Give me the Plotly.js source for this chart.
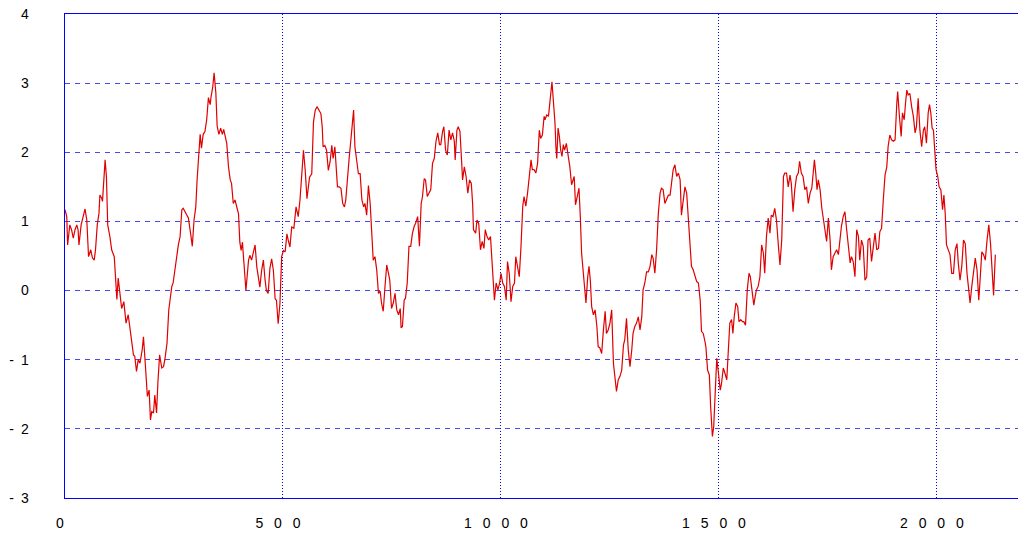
<!DOCTYPE html>
<html>
<head>
<meta charset="utf-8">
<script src="https://cdn.plot.ly/plotly-3.0.1.min.js"></script>
<style>
html,body{margin:0;padding:0;background:#fff;overflow:hidden;}
#chart{width:1018px;height:535px;}
</style>
</head>
<body>
<div id="chart"></div>
<script>
const xIndex = [0,4,6,11,15,19,23,27,30,32,37,40,46,50,54,59,63,67,70,74,78,80,84,86,89,92,95,98,103,107,113,117,119,122,126,130,135,140,145,151,157,160,164,168,172,177,180,183,186,189,193,196,199,203,206,210,213,217,222,226,229,234,238,245,248,252,257,260,264,268,271,275,279,283,288,292,296,300,303,306,310,313,317,321,325,329,333,335,339,342,346,349,353,357,361,364,369,371,375,379,382,386,390,394,398,401,404,407,411,415,421,424,428,432,436,440,443,447,451,455,459,462,466,470,474,478,482,485,489,493,497,501,505,509,512,516,520,525,530,535,539,543,547,551,555,561,566,570,574,578,583,587,590,592,596,600,604,608,612,615,619,623,625,629,633,637,641,644,648,652,656,659,662,665,669,673,677,681,685,688,692,696,700,704,707,711,715,719,723,726,730,734,738,742,745,749,753,757,761,765,769,771,774,778,781,785,789,793,797,801,804,809,813,817,820,824,827,831,835,839,843,847,851,855,859,862,866,869,873,877,881,885,889,893,895,899,902,906,910,912,916,920,924,928,932,935,937,942,945,949,953,957,961,964,968,972,976,979,982,985,989,993,997,1000,1004,1008,1012,1015,1019,1023,1027,1031,1034,1038,1042,1046,1050,1053,1057,1061,1065,1069,1072,1076,1080,1084,1088,1091,1095,1099,1101,1105,1109,1113,1117,1119,1121,1124,1126,1128,1131,1134,1137,1140,1143,1146,1150,1154,1158,1162,1165,1168,1171,1175,1179,1182,1185,1189,1193,1195,1199,1202,1205,1208,1212,1216,1220,1223,1227,1231,1235,1239,1242,1246,1250,1254,1258,1261,1265,1269,1273,1277,1281,1284,1288,1292,1296,1300,1303,1307,1311,1315,1319,1323,1326,1330,1334,1338,1342,1346,1349,1353,1357,1361,1365,1368,1372,1376,1380,1384,1388,1391,1395,1399,1403,1407,1411,1414,1418,1422,1426,1430,1434,1437,1441,1445,1449,1453,1457,1460,1464,1468,1470,1474,1478,1481,1485,1488,1491,1495,1499,1503,1506,1510,1514,1518,1522,1525,1529,1532,1535,1539,1543,1546,1550,1554,1557,1561,1565,1569,1572,1576,1580,1583,1586,1590,1594,1598,1602,1605,1609,1613,1617,1620,1624,1628,1632,1636,1640,1644,1648,1651,1655,1659,1663,1666,1670,1674,1678,1682,1685,1689,1693,1697,1701,1705,1709,1713,1716,1719,1722,1725,1728,1732,1736,1740,1743,1747,1751,1755,1758,1762,1766,1770,1774,1777,1781,1785,1789,1793,1797,1801,1804,1808,1812,1816,1820,1823,1827,1831,1835,1839,1842,1846,1850,1854,1858,1862,1866,1869,1873,1877,1881,1885,1888,1892,1896,1900,1904,1908,1910,1914,1918,1921,1925,1928,1931,1934,1938,1942,1946,1950,1953,1957,1961,1965,1969,1972,1976,1980,1983,1986,1989,1992,1995,1998,2002,2005,2009,2013,2016,2019,2022,2026,2030,2034,2038,2042,2046,2049,2053,2057,2061,2065,2069,2073,2076,2080,2084,2088,2092,2096,2100,2103,2107,2111,2115,2119,2123,2126,2130,2134];

const signal = [1.17,1.07,0.66,0.95,0.88,0.76,0.88,0.95,0.88,0.66,0.95,1.02,1.18,1.02,0.49,0.59,0.47,0.44,0.59,0.95,1.12,1.38,1.34,1.29,1.53,1.89,1.65,0.95,0.78,0.59,0.49,0.01,-0.13,0.18,-0.09,-0.26,-0.16,-0.47,-0.35,-0.67,-0.93,-0.95,-1.17,-1.0,-1.05,-0.86,-0.67,-0.95,-1.34,-1.53,-1.44,-1.87,-1.75,-1.77,-1.51,-1.77,-1.34,-0.93,-1.12,-1.1,-1.0,-0.76,-0.28,0.06,0.11,0.3,0.59,0.66,0.78,1.17,1.19,1.14,1.09,1.05,0.83,0.64,1.02,1.21,1.6,1.94,2.26,2.06,2.26,2.3,2.47,2.79,2.69,2.8,2.95,3.15,2.86,2.38,2.26,2.35,2.26,2.33,2.18,2.13,1.79,1.6,1.55,1.26,1.31,1.21,1.11,0.7,0.58,0.7,0.29,0.0,0.44,0.51,0.44,0.56,0.66,0.34,0.2,0.05,0.29,0.44,0.15,0.0,-0.04,0.32,0.46,0.29,-0.12,-0.14,-0.48,-0.19,0.49,0.58,0.56,0.82,0.73,0.63,0.92,0.9,1.21,1.07,1.31,1.64,2.03,1.74,1.33,1.64,1.69,2.44,2.61,2.66,2.61,2.56,2.37,2.08,2.1,2.03,1.74,1.86,2.1,1.91,2.08,1.74,1.5,1.5,1.48,1.26,1.21,1.31,1.69,1.93,2.2,2.37,2.61,2.08,1.89,1.69,1.69,1.31,1.21,1.26,1.09,1.52,1.26,0.73,0.44,0.49,0.3,-0.04,-0.01,-0.18,-0.3,0.06,0.37,0.25,0.15,-0.26,-0.18,-0.04,-0.28,-0.35,-0.26,-0.54,-0.52,-0.14,-0.11,0.11,0.64,0.64,0.83,0.93,0.97,1.07,0.64,1.26,1.36,1.62,1.6,1.36,1.41,1.46,1.84,1.91,2.16,2.28,2.11,2.11,2.3,2.37,2.03,1.96,2.32,2.18,2.28,2.16,1.89,2.32,2.37,2.3,1.84,1.6,1.79,1.65,1.41,1.6,1.55,1.26,0.88,0.83,1.02,0.97,0.59,0.71,0.61,0.88,0.78,0.73,0.78,0.44,0.15,-0.14,0.11,0.01,0.11,0.25,0.11,0.06,-0.14,0.42,0.25,-0.16,0.06,0.11,0.49,0.32,0.2,0.64,1.22,1.36,1.22,1.41,1.65,1.89,1.75,1.75,1.7,1.84,2.32,2.2,2.25,2.52,2.47,2.54,2.52,2.76,3.02,2.85,2.71,2.42,2.08,1.91,2.35,2.23,2.03,1.94,2.11,2.03,2.13,1.96,1.79,1.53,1.6,1.65,1.24,1.34,1.48,1.07,0.54,0.25,-0.09,-0.18,0.2,0.35,0.15,-0.23,-0.35,-0.28,-0.52,-0.81,-0.83,-0.91,-0.57,-0.3,-0.62,-0.57,-0.47,-0.28,-1.05,-1.2,-1.46,-1.29,-1.24,-1.15,-0.79,-0.71,-0.4,-0.86,-1.1,-0.86,-0.62,-0.52,-0.47,-0.38,-0.57,-0.38,0.01,0.11,0.27,0.27,0.35,0.52,0.47,0.25,0.59,1.12,1.41,1.48,1.46,1.26,1.31,1.38,1.38,1.53,1.75,1.82,1.65,1.7,1.6,1.09,1.26,1.5,1.41,1.02,0.78,0.35,0.3,0.2,0.13,0.11,-0.14,-0.59,-0.62,-0.74,-0.81,-1.15,-1.22,-1.68,-2.11,-1.97,-1.58,-0.98,-1.2,-1.44,-1.34,-1.12,-1.2,-1.29,-0.81,-0.47,-0.42,-0.62,-0.38,-0.18,-0.23,-0.45,-0.42,-0.45,-0.45,-0.5,0.01,0.25,0.2,-0.04,-0.21,-0.09,0.01,0.06,0.2,0.66,0.54,0.25,0.78,1.05,0.83,1.09,1.07,1.19,1.02,0.68,0.37,0.73,1.65,1.7,1.7,1.5,1.67,1.55,1.14,1.46,1.65,1.7,1.87,1.7,1.65,1.46,1.5,1.26,1.41,1.48,1.75,1.89,1.7,1.46,1.6,1.46,1.19,1.02,0.88,0.71,1.05,0.73,0.3,0.49,0.54,0.59,0.52,0.73,0.93,1.07,1.14,0.88,0.64,0.4,0.49,0.42,0.2,0.88,0.78,0.44,0.73,0.64,0.15,0.2,0.73,0.76,0.42,0.68,0.83,0.59,0.61,0.85,0.9,1.31,1.67,1.79,2.08,2.25,2.18,2.16,2.18,2.71,2.88,2.52,2.23,2.57,2.47,2.71,2.9,2.83,2.85,2.66,2.52,2.28,2.37,2.78,2.32,2.08,2.32,2.37,2.13,2.57,2.69,2.57,2.35,2.32,2.03,1.75,1.65,1.5,1.46,1.17,1.38,1.12,0.66,0.59,0.52,0.25,0.25,0.59,0.68,0.4,0.15,0.35,0.73,0.68,0.25,0.01,-0.18,0.06,0.27,0.47,0.3,-0.14,0.25,0.56,0.52,0.44,0.73,0.95,0.68,0.27,-0.07,0.52];

const xTickVals = [0, 500, 1000, 1500, 2000];
const xTickText = ["0", "5\u2002 0\u2002 0", "1\u2002 0\u2002 0\u2002 0", "1\u2002 5\u2002 0\u2002 0", "2\u2002 0\u2002 0\u2002 0"];
const yTickVals = [-3, -2, -1, 0, 1, 2, 3, 4];
const yTickText = ["-\u20023", "-\u20022", "-\u20021", "0", "1", "2", "3", "4"];

const trace = {
  x: xIndex,
  y: signal,
  type: 'scatter',
  mode: 'lines',
  line: {color: '#e00000', width: 1.2},
  hoverinfo: 'skip'
};

const tickFont = {family: '"Liberation Sans", Arial, sans-serif', size: 14, color: '#000'};

const layout = {
  width: 1018,
  height: 535,
  margin: {l: 65, r: 0, t: 14, b: 37, pad: 0},
  paper_bgcolor: '#fff',
  plot_bgcolor: '#fff',
  showlegend: false,
  xaxis: {
    range: [0, 2186],
    tickvals: xTickVals,
    ticktext: xTickText,
    tickfont: tickFont,
    ticks: '',
    showgrid: true,
    gridcolor: '#0000ee',
    griddash: '1px,2px',
    gridwidth: 1,
    showline: true,
    linecolor: '#0000ff',
    linewidth: 1,
    mirror: true,
    zeroline: false,
    ticklabelstandoff: 12,
    ticklabelshift: -5
  },
  yaxis: {
    range: [-3, 4],
    tickvals: yTickVals,
    ticktext: yTickText,
    tickfont: tickFont,
    ticks: '',
    showgrid: true,
    gridcolor: '#4a4ae6',
    griddash: '5px,5px',
    gridwidth: 1,
    showline: true,
    linecolor: '#0000ff',
    linewidth: 1.5,
    zeroline: false,
    ticklabelstandoff: 32
  }
};

Plotly.newPlot('chart', [trace], layout, {staticPlot: true, displayModeBar: false});
</script>
</body>
</html>
